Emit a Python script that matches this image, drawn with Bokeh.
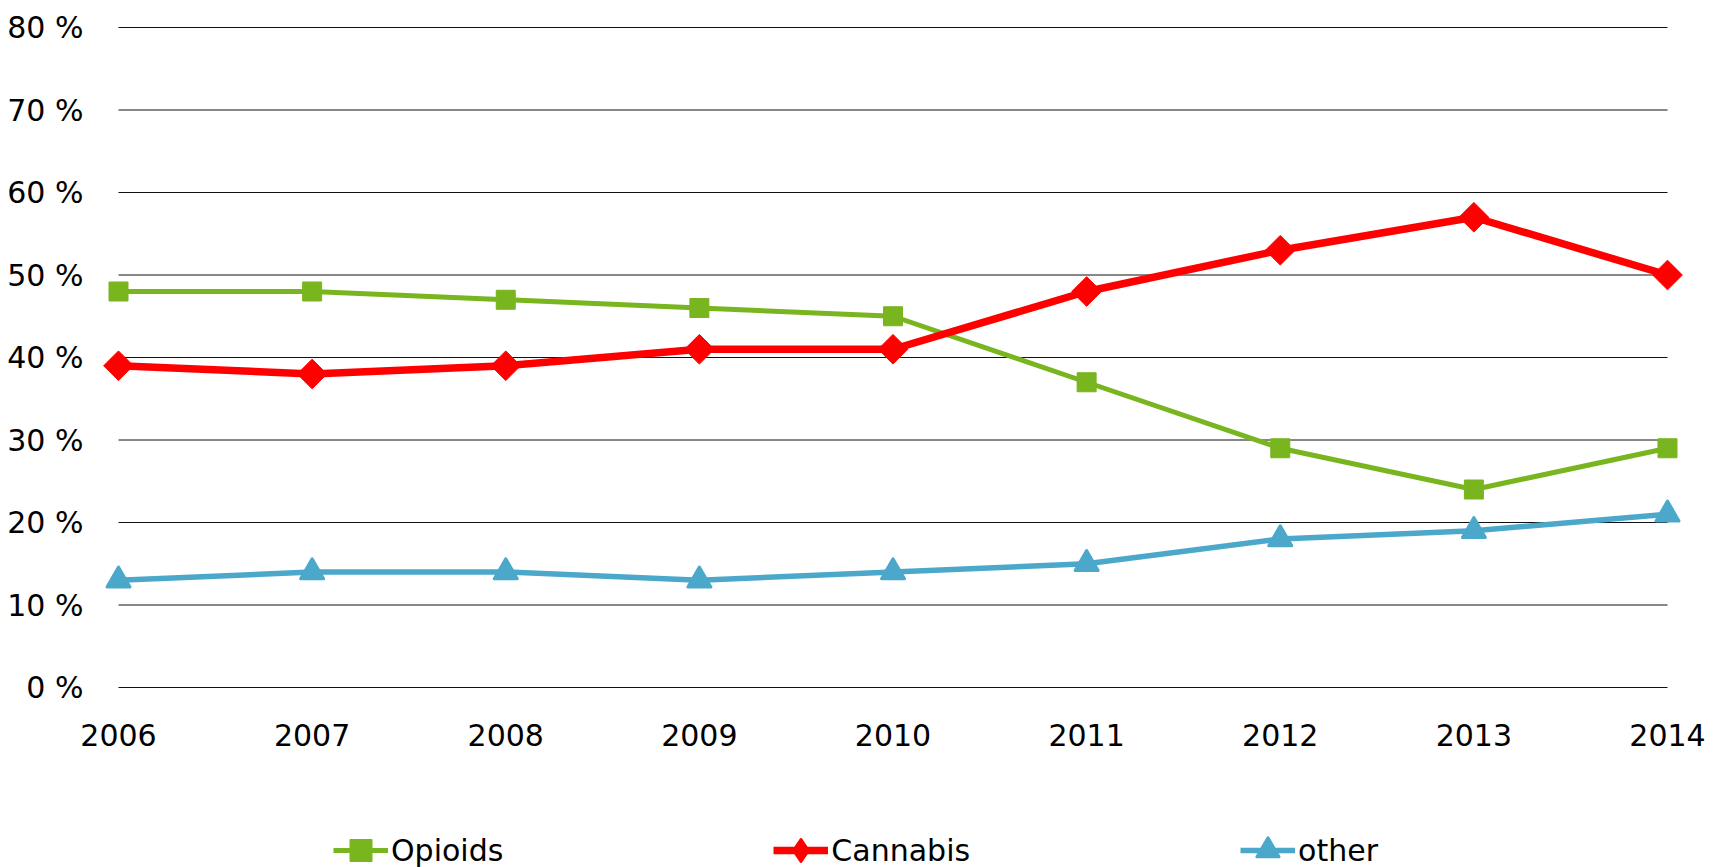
import numpy as np
from bokeh.plotting import figure
from bokeh.models import FixedTicker, Range1d, Legend, LegendItem
from bokeh.embed import file_html
from bokeh.resources import INLINE

# Share of treatment demand by main substance (%)
years = [2006, 2007, 2008, 2009, 2010, 2011, 2012, 2013, 2014]
opioids = [48, 48, 47, 46, 45, 37, 29, 24, 29]
cannabis = [39, 38, 39, 41, 41, 48, 53, 57, 50]
other = [13, 14, 14, 13, 14, 15, 18, 19, 21]

y_ticks = [0, 10, 20, 30, 40, 50, 60, 70, 80]
y_tick_labels = ["0 %", "10 %", "20 %", "30 %", "40 %", "50 %", "60 %", "70 %", "80 %"]
x_tick_labels = [str(y) for y in years]

GREEN = "#78B51F"
RED = "#FF0000"
BLUE = "#4BA8CA"
FONT = "DejaVu Sans"
FONT_SIZE = "30px"

W, H = 1729, 867
# pixel extent of the 2006-2014 / 0-80 % grid inside the canvas
GRID_LEFT, GRID_RIGHT, GRID_TOP, GRID_BOTTOM = 118, 1667, 27, 687
px_per_year = (GRID_RIGHT - GRID_LEFT) / (years[-1] - years[0])
px_per_pct = (GRID_BOTTOM - GRID_TOP) / (y_ticks[-1] - y_ticks[0])

# the frame fills the whole canvas; axes sit on the grid edges
x_range = Range1d(years[0] - GRID_LEFT / px_per_year,
                  years[-1] + (W - GRID_RIGHT) / px_per_year)
y_range = Range1d(y_ticks[0] - (H - GRID_BOTTOM) / px_per_pct,
                  y_ticks[-1] + GRID_TOP / px_per_pct)

p = figure(
    width=W, height=H,
    output_backend="svg", toolbar_location=None,
    x_range=x_range, y_range=y_range,
    min_border=0,
)
p.outline_line_color = None
p.background_fill_color = "white"
p.border_fill_color = "white"
p.grid.visible = False

# horizontal rules spanning the first to last year
p.segment(x0=[years[0]] * len(y_ticks), x1=[years[-1]] * len(y_ticks),
          y0=y_ticks, y1=y_ticks, line_color="#111111", line_width=1)

r_op_line = p.line(years, opioids, line_color=GREEN, line_width=5)
r_op_pts = p.scatter(years, opioids, marker="square", size=19,
                     fill_color=GREEN, line_color=GREEN)

r_ca_line = p.line(years, cannabis, line_color=RED, line_width=7.5, line_join="round")
# diamond swatch for the legend (legend glyphs ignore angle); it sits
# fully under the rotated squares drawn next
r_ca_key = p.scatter(years, cannabis, marker="diamond", size=18,
                     fill_color=RED, line_color=RED, line_width=3, line_join="round")
r_ca_pts = p.scatter(years, cannabis, marker="square", angle=np.pi / 4, size=21,
                     fill_color=RED, line_color=RED)

r_ot_line = p.line(years, other, line_color=BLUE, line_width=5.5)
r_ot_pts = p.scatter(years, other, marker="triangle", size=23,
                     fill_color=BLUE, line_color=BLUE, line_width=3, line_join="round")

for ax in (p.xaxis[0], p.yaxis[0]):
    ax.axis_line_color = None
    ax.major_tick_line_color = None
    ax.minor_tick_line_color = None
    ax.major_label_text_font = FONT
    ax.major_label_text_font_size = FONT_SIZE
    ax.major_label_text_color = "black"

p.xaxis.fixed_location = y_ticks[0]
p.xaxis.ticker = FixedTicker(ticks=years)
p.xaxis.major_label_overrides = dict(zip(years, x_tick_labels))
p.xaxis.major_label_standoff = 30

p.yaxis.fixed_location = years[0]
p.yaxis.ticker = FixedTicker(ticks=y_ticks)
p.yaxis.major_label_overrides = dict(zip(y_ticks, y_tick_labels))
p.yaxis.major_label_standoff = 29

legend = Legend(
    items=[
        LegendItem(label="Opioids", renderers=[r_op_line, r_op_pts]),
        LegendItem(label="Cannabis", renderers=[r_ca_line, r_ca_key]),
        LegendItem(label="other", renderers=[r_ot_line, r_ot_pts]),
    ],
    orientation="horizontal",
    location=(333, -13),
    glyph_width=55, glyph_height=60,
    label_standoff=3, spacing=270,
    padding=0, margin=0,
    border_line_color=None, background_fill_alpha=0,
    label_text_font=FONT, label_text_font_size=FONT_SIZE, label_text_color="black",
)
p.add_layout(legend, "center")

open("out.html", "w").write(file_html(p, INLINE))
